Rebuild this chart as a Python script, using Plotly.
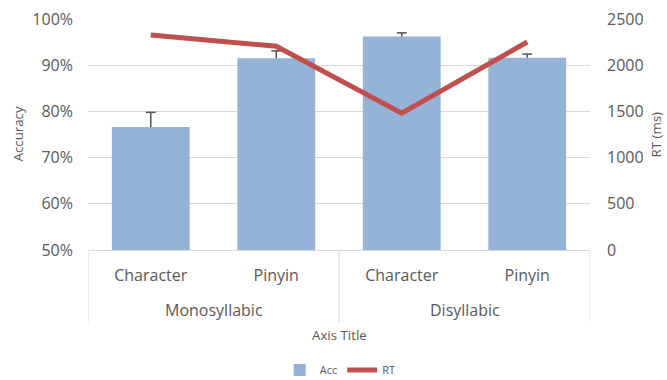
import plotly.graph_objects as go

groups = ["Monosyllabic", "Monosyllabic", "Disyllabic", "Disyllabic"]
subcats = ["Character", "Pinyin", "Character", "Pinyin"]
acc = [0.766, 0.915, 0.962, 0.916]
acc_err = [0.032, 0.016, 0.008, 0.008]
rt = [2327, 2205, 1480, 2251]

grey = "#595959"
gridc = "#D9D9D9"
font = "Open Sans"

xs = list(range(len(subcats)))
err_top = [a + e for a, e in zip(acc, acc_err)]

fig = go.Figure()
fig.add_trace(go.Bar(
    x=xs, y=acc, name="Acc",
    marker=dict(color="#95B3D7", line=dict(width=0)),
    error_y=dict(type="data", array=acc_err, arrayminus=[0] * len(acc), symmetric=False,
                 color="#505050", thickness=1.5, width=0),
    width=0.62,
))
fig.add_trace(go.Scatter(
    x=xs, y=err_top, mode="markers", showlegend=False, hoverinfo="skip",
    marker=dict(symbol="line-ew", size=7, line=dict(color="#505050", width=1.5)),
))
fig.add_trace(go.Scatter(
    x=xs, y=rt, name="RT", yaxis="y2", mode="lines",
    line=dict(color="#C0504D", width=5),
))

# group labels and dividers derived from the group list
uniq = []
for g in groups:
    if g not in uniq:
        uniq.append(g)
bounds = [-0.5]
for g in uniq:
    idx = [i for i, gg in enumerate(groups) if gg == g]
    fig.add_annotation(x=sum(idx) / len(idx), y=0, xref="x", yref="paper",
                       yshift=-60, text=g, showarrow=False,
                       font=dict(size=16, color=grey), yanchor="middle")
    bounds.append(max(idx) + 0.5)
for b in bounds:
    fig.add_shape(type="line", xref="x", yref="paper", x0=b, x1=b, y0=0, y1=-72 / 231,
                  line=dict(color=gridc, width=1))

fig.add_annotation(x=0.5, y=0, xref="paper", yref="paper", yshift=-85, text="Axis Title",
                   showarrow=False, font=dict(size=13.3, color=grey), yanchor="middle")
fig.add_annotation(x=0, y=0.5, xref="paper", yref="paper", xshift=-71, text="Accuracy",
                   textangle=-90, showarrow=False, font=dict(size=13.3, color=grey),
                   xanchor="center")
fig.add_annotation(x=1, y=0.5, xref="paper", yref="paper", xshift=65, text="RT (ms)",
                   textangle=-90, showarrow=False, font=dict(size=13.3, color=grey),
                   xanchor="center")

fig.update_layout(
    width=667, height=380,
    margin=dict(l=88, r=77, t=19, b=130, autoexpand=False),
    paper_bgcolor="white", plot_bgcolor="white",
    font=dict(family=font, color=grey, size=16),
    showlegend=True,
    legend=dict(orientation="h", xref="container", x=0.51, xanchor="center",
                y=-120 / 231, yanchor="middle",
                font=dict(size=11, color=grey), itemwidth=30, traceorder="normal"),
    xaxis=dict(
        range=[-0.5, len(subcats) - 0.5], tickvals=xs, ticktext=subcats,
        showline=True, linecolor=gridc, linewidth=1, automargin=False,
        ticks="", ticklabelstandoff=11, tickfont=dict(size=16, color=grey),
        showgrid=False, zeroline=False,
    ),
    yaxis=dict(
        range=[0.5, 1.0], dtick=0.1, tickformat=".0%", automargin=False,
        showgrid=True, gridcolor=gridc, gridwidth=1, zeroline=False,
        tickfont=dict(size=16, color=grey), ticks="", ticklabelstandoff=14,
    ),
    yaxis2=dict(
        range=[0, 2500], dtick=500, overlaying="y", side="right", automargin=False,
        showgrid=False, zeroline=False,
        tickfont=dict(size=16, color=grey), ticks="", ticklabelstandoff=16,
    ),
)

fig.write_html("out.html")
